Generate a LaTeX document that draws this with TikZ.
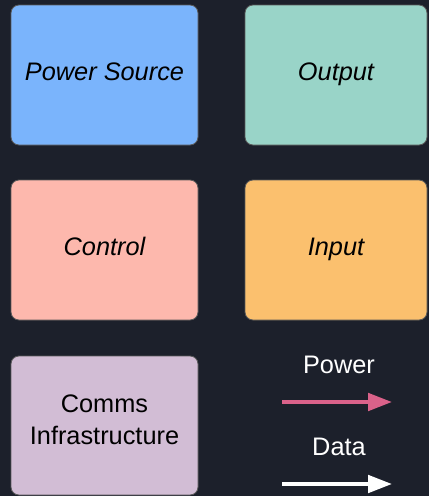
\documentclass[tikz,border=0pt]{standalone}
\usepackage{fontspec}
\setmainfont{Liberation Sans}
\usetikzlibrary{arrows.meta}
\definecolor{bg}{HTML}{1C202B}
\definecolor{cblue}{HTML}{7AB4FC}
\definecolor{cteal}{HTML}{99D4C8}
\definecolor{cpink}{HTML}{FDB8AD}
\definecolor{corange}{HTML}{FBC06E}
\definecolor{cpurple}{HTML}{D2BDD5}
\definecolor{parrow}{HTML}{DA628A}
\begin{document}
\begin{tikzpicture}[x=0.75pt,y=-0.75pt,
  blk/.style={draw=gray!70!black, line width=0.6pt, rounded corners=6pt, minimum width=187*0.75pt, minimum height=140*0.75pt, inner sep=0pt, font=\fontsize{19}{24}\selectfont\itshape, text=black, align=center, text height=12pt, text depth=4.5pt},
  txt/.style={font=\fontsize{19}{24}\selectfont, text=black, align=center, inner sep=0pt},
  lbl/.style={font=\fontsize{19}{24}\selectfont, text=white},
  legarrow/.style={line width=3pt, -{Triangle[length=18pt,width=13pt]}}]
\fill[bg] (0,0) rectangle (429,496);
\useasboundingbox (0,0) rectangle (429,496);
\node[blk, fill=cblue] (ps) at (104.5,75) {Power Source};
\node[blk, fill=cteal, minimum width=182*0.75pt] (out) at (336,75) {Output};
\node[blk, fill=cpink] (ctl) at (104.5,250) {Control};
\node[blk, fill=corange, minimum width=182*0.75pt] (in) at (336,250) {Input};
\node[blk, fill=cpurple, minimum height=139*0.75pt] (cm) at (104.5,425.5) {};
\node[txt] (cmt) at (104.5,420) {Comms\\Infrastructure};
\node[lbl] (lp) at (339,365) {Power};
\node[lbl] (ld) at (339,447) {Data};
\coordinate (p1) at (282,402);
\coordinate (p2) at (392,402);
\coordinate (d1) at (282,484);
\coordinate (d2) at (392,484);
\draw[legarrow, parrow] (p1) -- (p2);
\draw[legarrow, white] (d1) -- (d2);
\end{tikzpicture}
\end{document}
